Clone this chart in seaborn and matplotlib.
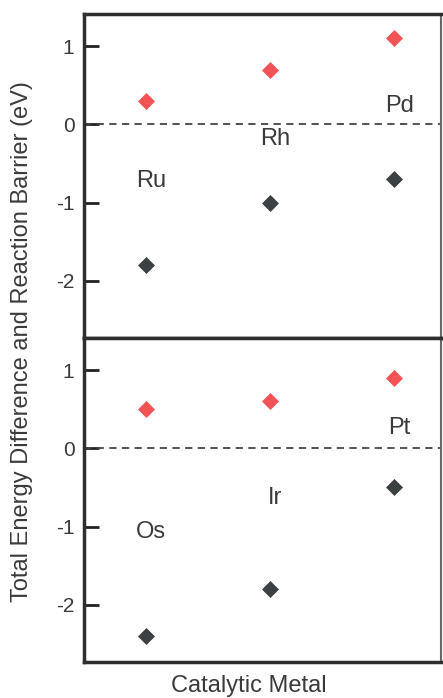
import matplotlib
matplotlib.use("Agg")
import matplotlib.pyplot as plt
import seaborn as sns
import pandas as pd

# Data
top_metals = ["Ru", "Rh", "Pd"]
top_barrier = [0.3, 0.7, 1.1]
top_energy = [-1.8, -1.0, -0.7]
top_label_y = [-0.72, -0.19, 0.24]

bottom_metals = ["Os", "Ir", "Pt"]
bottom_barrier = [0.5, 0.6, 0.9]
bottom_energy = [-2.4, -1.8, -0.5]
bottom_label_y = [-1.07, -0.64, 0.26]

yticks = [-2, -1, 0, 1]

sns.set_theme(style="white")
plt.rcParams["font.family"] = ["Liberation Sans", "DejaVu Sans"]

RED = "#f25456"
DARK = "#3b4042"
TXT = "#3a3a3a"

fig = plt.figure(figsize=(4.43, 6.98), dpi=100)
ax1 = fig.add_axes([0.19, 0.5158, 0.806, 0.4642])
ax2 = fig.add_axes([0.19, 0.0516, 0.806, 0.4642])

panels = [
    (ax1, top_metals, top_barrier, top_energy, top_label_y),
    (ax2, bottom_metals, bottom_barrier, bottom_energy, bottom_label_y),
]

for ax, metals, barrier, energy, label_y in panels:
    df = pd.DataFrame({"pos": list(range(len(metals))), "metal": metals,
                       "barrier": barrier, "energy": energy})
    sns.scatterplot(data=df, x="pos", y="barrier", marker="D", s=75,
                    color=RED, edgecolor=RED, linewidth=0, ax=ax, zorder=3)
    sns.scatterplot(data=df, x="pos", y="energy", marker="D", s=75,
                    color=DARK, edgecolor=DARK, linewidth=0, ax=ax, zorder=3)
    ax.axhline(0, color="#444444", linestyle=(0, (4, 3)), linewidth=1.3, zorder=1)
    for i, (m, ly) in enumerate(zip(metals, label_y)):
        ax.text(i + 0.04, ly, m, fontsize=17, color=TXT, ha="center", va="center")
    ax.set_xlim(-0.5, 2.38)
    ax.set_ylim(-2.73, 1.41)
    ax.set_yticks(yticks)
    ax.set_yticklabels([str(t) for t in yticks], fontsize=15, color=TXT)
    ax.set_xticks([])
    ax.set_xlabel("")
    ax.set_ylabel("")
    ax.tick_params(axis="y", which="both", direction="in", length=11, width=2,
                   color="#222222", left=True, right=False, pad=7)
    for sp in ax.spines.values():
        sp.set_linewidth(2.5)
        sp.set_color("#2e2e2e")
        sp.set_visible(True)
    ax.spines["right"].set_color("#666666")
    ax.spines["right"].set_linewidth(1.5)

fig.text(0.05, 0.51, "Total Energy Difference and Reaction Barrier (eV)",
         rotation=90, ha="center", va="center", fontsize=17, color=TXT)
fig.text(0.562, 0.017, "Catalytic Metal", ha="center", va="center",
         fontsize=17, color=TXT)

fig.savefig("out.png", dpi=100)
